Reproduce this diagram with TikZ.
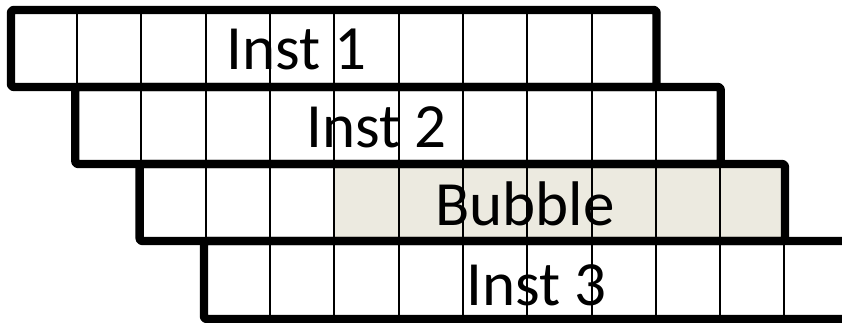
\documentclass[tikz,border=0pt]{standalone}
\usepackage{fontspec}
\setmainfont{Carlito}
\begin{document}
\begin{tikzpicture}[x=1pt,y=-1pt,
  thick border/.style={line width=8.3pt, line join=round, rounded corners=2.5pt},
  thin cell/.style={line width=2pt, black},
  label/.style={anchor=base, inner sep=0pt, font=\fontsize{63}{70}\selectfont},
  bubble fill/.style={fill={rgb,255:red,236;green,234;blue,224}}]
\useasboundingbox (0,0) rectangle (842,323);
\clip (0,0) rectangle (842,323);
% bubble shading
\fill[bubble fill] (334.3,164) rectangle (784.9,241);
% thin cell dividers
\foreach \r/\ya/\yb in {0/10/87, 1/87/164, 2/164/241, 3/241/319}{
  \foreach \k in {1,...,9}{
    \draw[thin cell] ({12.8+64.3*(\r+\k)},\ya) -- ({12.8+64.3*(\r+\k)},\yb);
  }
}
% thick row frames
\draw[thick border] (11,10) rectangle (656.5,87);
\draw[thick border] (75.3,87) rectangle (720.7,164);
\draw[thick border] (139.6,164) rectangle (784.9,241);
\draw[thick border] (850,241) -- (203.9,241) -- (203.9,319) -- (850,319);
% labels
\node[label] (inst1) at (296.5,70) {Inst 1};
\node[label] (inst2) at (376.5,148) {Inst 2};
\node[label] (bubble) at (525,225) {Bubble};
\node[label] (inst3) at (536.5,305) {Inst 3};
\end{tikzpicture}
\end{document}
